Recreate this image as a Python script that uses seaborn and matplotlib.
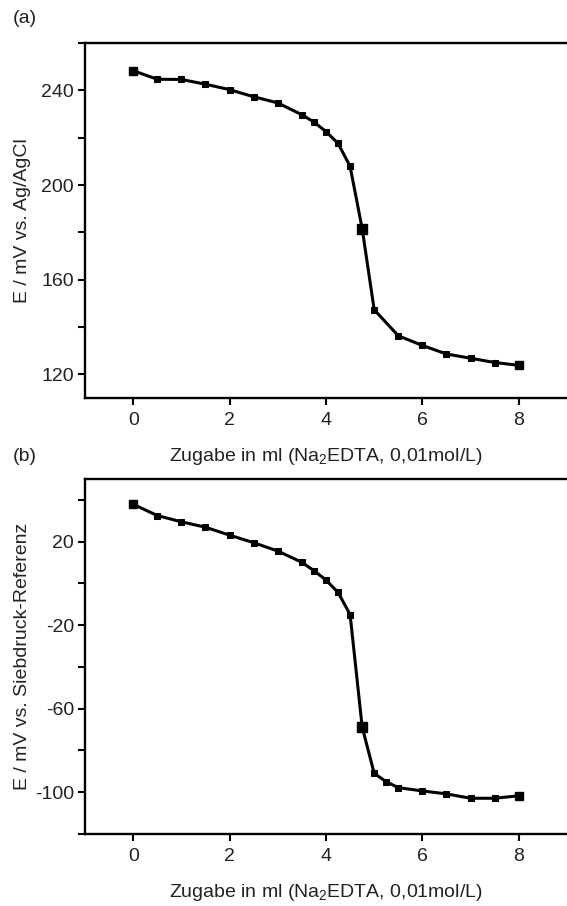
"""
Titration curves: Na2EDTA addition vs. electrode potential,
(a) against Ag/AgCl, (b) against screen-printed reference.
"""

import numpy as np
import pandas as pd
import matplotlib
matplotlib.use("Agg")
import matplotlib.pyplot as plt
import seaborn as sns
from matplotlib.ticker import MultipleLocator

# Volume added (ml)
vol_a = [0, 0.5, 1, 1.5, 2, 2.5, 3, 3.5, 3.75, 4, 4.25, 4.5, 4.75, 5, 5.5, 6, 6.5, 7, 7.5, 8]
pot_a = [248.3, 244.7, 244.6, 242.6, 240.3, 237.3, 234.7, 229.7, 226.6, 222.6,
         217.6, 207.9, 181.6, 147.3, 136.3, 132.2, 128.6, 126.8, 125.0, 123.8]

vol_b = [0, 0.5, 1, 1.5, 2, 2.5, 3, 3.5, 3.75, 4, 4.25, 4.5, 4.75, 5, 5.25, 5.5, 6, 6.5, 7, 7.5, 8]
pot_b = [37.9, 32.5, 29.5, 26.9, 23.1, 19.5, 15.5, 10.1, 6.1, 1.6, -4.3, -14.9,
         -68.7, -91.0, -95.0, -97.8, -99.4, -100.8, -102.9, -102.9, -101.7]

xticks = [0, 2, 4, 6, 8]
yticks_a = [120, 160, 200, 240]
yticks_b = [-100, -60, -20, 20]

XLABEL = "Zugabe in ml (Na$_2$EDTA, 0,01mol/L)"
YLABEL_A = "E / mV vs. Ag/AgCl"
YLABEL_B = "E / mV vs. Siebdruck-Referenz"

FS = 14

sns.set_style("ticks")
plt.rcParams["font.family"] = ["Liberation Sans", "DejaVu Sans"]
plt.rcParams["mathtext.fontset"] = "custom"
plt.rcParams["mathtext.rm"] = "Liberation Sans"
plt.rcParams["axes.unicode_minus"] = False
plt.rcParams["text.color"] = "#222222"
plt.rcParams["axes.labelcolor"] = "#222222"


def draw_panel(ax, x, y, ylim, yticks, ylabel):
    df = pd.DataFrame({"x": x, "y": y})
    sns.lineplot(data=df, x="x", y="y", ax=ax, color="black", linewidth=2.2,
                 marker="s", markersize=4.5, markeredgecolor="black")
    # end points and equivalence point are drawn larger
    ends = df.iloc[[0, len(df) - 1]]
    ax.plot(ends["x"], ends["y"], ls="none", marker="s", color="black", markersize=5.5)
    eq = df.iloc[[int(np.argmin(np.abs(df["x"] - 4.75)))]]
    ax.plot(eq["x"], eq["y"], ls="none", marker="s", color="black", markersize=7.5)

    ax.set_xlim(-1, 9)
    ax.set_ylim(*ylim)
    ax.set_xticks(xticks)
    ax.set_yticks(yticks)
    ax.yaxis.set_minor_locator(MultipleLocator(20))
    ax.tick_params(axis="both", which="both", direction="out", width=1.5,
                   length=5, labelsize=FS, color="black", labelcolor="#222222")
    ax.tick_params(axis="x", which="major", pad=5)
    ax.tick_params(axis="y", which="major", pad=3)
    for side in ["left", "bottom", "top"]:
        ax.spines[side].set_visible(True)
        ax.spines[side].set_linewidth(1.7)
        ax.spines[side].set_color("black")
    ax.spines["right"].set_visible(False)
    ax.set_xlabel(XLABEL, fontsize=FS)
    ax.set_ylabel(ylabel, fontsize=FS)
    ax.xaxis.set_label_coords(0.5, -0.135)
    ax.yaxis.set_label_coords(-0.112, 0.5)


fig = plt.figure(figsize=(5.67, 9.06), dpi=100)
ax_a = fig.add_axes([0.1499, 0.5607, 0.8501, 0.3918])
ax_b = fig.add_axes([0.1499, 0.0795, 0.8501, 0.3918])

draw_panel(ax_a, vol_a, pot_a, (110, 260), yticks_a, YLABEL_A)
draw_panel(ax_b, vol_b, pot_b, (-120, 50), yticks_b, YLABEL_B)

fig.text(0.022, 0.980, "(a)", fontsize=FS, ha="left", va="center")
fig.text(0.022, 0.4956, "(b)", fontsize=FS, ha="left", va="center")

fig.savefig("out.png", dpi=100, facecolor="white")
